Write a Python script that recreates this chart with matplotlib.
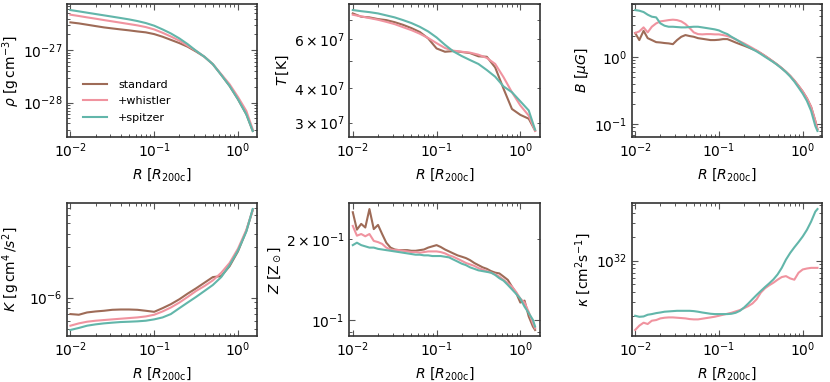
import numpy as np
import matplotlib
matplotlib.use("Agg")
import matplotlib.pyplot as plt

# radius grids (in R_200c)
R = [0.01, 0.0126, 0.0158, 0.02, 0.0251, 0.0316, 0.0398, 0.0501, 0.0631, 0.0794,
     0.1, 0.126, 0.158, 0.2, 0.251, 0.316, 0.398, 0.501, 0.631, 0.794,
     1.0, 1.259, 1.5]
R_fine = [0.01, 0.0112, 0.0126, 0.0141, 0.0158, 0.0178, 0.02, 0.0224, 0.0251, 0.0282,
          0.0316, 0.0355, 0.0398, 0.0447, 0.0501, 0.0562, 0.0631, 0.0708, 0.0794, 0.0891,
          0.1, 0.112, 0.126, 0.141, 0.158, 0.178, 0.2, 0.224, 0.251, 0.282,
          0.316, 0.355, 0.398, 0.447, 0.501, 0.562, 0.631, 0.708, 0.794, 0.891,
          1.0, 1.122, 1.259, 1.413, 1.5]

labels = ["standard", "+whistler", "+spitzer"]
colors = ["#9e6b57", "#f0939f", "#62b6aa"]

# density [1e-27 g/cm^3]
rho_standard = [3.38, 3.23, 3.05, 2.87, 2.71, 2.59, 2.48, 2.38, 2.27, 2.18,
                2.02, 1.80, 1.57, 1.36, 1.16, 0.94, 0.746, 0.540, 0.338, 0.208,
                0.116, 0.0598, 0.0288]
rho_whistler = [4.73, 4.47, 4.21, 3.97, 3.74, 3.53, 3.33, 3.14, 2.96, 2.75,
                2.48, 2.14, 1.82, 1.51, 1.21, 0.971, 0.746, 0.540, 0.348, 0.224,
                0.128, 0.0693, 0.0309]
rho_spitzer = [5.80, 5.48, 5.17, 4.87, 4.60, 4.34, 4.09, 3.85, 3.58, 3.28,
               2.92, 2.48, 2.08, 1.67, 1.30, 0.971, 0.746, 0.540, 0.338, 0.208,
               0.116, 0.0598, 0.0288]

# temperature [1e7 K]
T_standard = [7.42, 7.22, 7.18, 7.08, 7.02, 6.90, 6.75, 6.57, 6.36, 6.03,
              5.55, 5.40, 5.43, 5.39, 5.34, 5.20, 5.18, 4.74, 3.97, 3.36,
              3.20, 3.10, 2.81]
T_whistler = [7.34, 7.24, 7.14, 7.04, 6.92, 6.79, 6.62, 6.46, 6.27, 6.05,
              5.80, 5.57, 5.45, 5.40, 5.36, 5.27, 5.13, 4.88, 4.37, 3.86,
              3.46, 3.18, 2.80]
T_spitzer = [7.63, 7.56, 7.50, 7.42, 7.30, 7.18, 7.02, 6.85, 6.64, 6.39,
             6.08, 5.72, 5.42, 5.21, 5.04, 4.88, 4.64, 4.39, 4.05, 3.86,
             3.58, 3.32, 2.83]

# magnetic field [muG] (fine grid)
B_standard = [2.25, 1.77, 2.43, 1.89, 1.77, 1.65, 1.63, 1.60, 1.58, 1.54,
              1.77, 1.98, 2.10, 2.03, 1.98, 1.89, 1.85, 1.81, 1.77, 1.77,
              1.79, 1.83, 1.83, 1.73, 1.63, 1.54, 1.46, 1.38, 1.30, 1.23,
              1.13, 1.03, 0.934, 0.843, 0.761, 0.679, 0.599, 0.522, 0.445, 0.371,
              0.306, 0.243, 0.181, 0.112, 0.0843]
B_whistler = [2.25, 2.38, 2.73, 2.30, 2.79, 3.13, 3.35, 3.42, 3.50, 3.55,
              3.50, 3.35, 3.06, 2.67, 2.30, 2.17, 2.15, 2.17, 2.17, 2.15,
              2.15, 2.10, 2.03, 1.94, 1.81, 1.69, 1.58, 1.46, 1.35, 1.24,
              1.13, 1.03, 0.934, 0.843, 0.761, 0.679, 0.599, 0.522, 0.445, 0.371,
              0.306, 0.243, 0.181, 0.112, 0.0843]
B_spitzer = [4.93, 4.82, 4.61, 4.21, 3.93, 3.84, 3.13, 2.89, 2.79, 2.79,
             2.76, 2.73, 2.73, 2.76, 2.79, 2.79, 2.73, 2.67, 2.61, 2.55,
             2.46, 2.30, 2.17, 1.98, 1.83, 1.67, 1.52, 1.41, 1.30, 1.20,
             1.10, 1.00, 0.913, 0.833, 0.752, 0.671, 0.592, 0.511, 0.430, 0.351,
             0.285, 0.222, 0.158, 0.0945, 0.0796]

# entropy [1e-6 g cm^4 / s^2]
K_standard = [0.699, 0.689, 0.724, 0.740, 0.751, 0.767, 0.772, 0.772, 0.767, 0.751,
              0.734, 0.795, 0.866, 0.965, 1.090, 1.222, 1.381, 1.560, 1.594, 1.976,
              2.73, 4.26, 6.69]
K_whistler = [0.543, 0.571, 0.592, 0.605, 0.614, 0.623, 0.632, 0.641, 0.650, 0.664,
              0.689, 0.740, 0.806, 0.898, 1.014, 1.154, 1.285, 1.452, 1.713, 2.12,
              2.89, 4.35, 6.69]
K_spitzer = [0.495, 0.517, 0.543, 0.559, 0.571, 0.580, 0.588, 0.592, 0.597, 0.605,
             0.623, 0.650, 0.699, 0.795, 0.898, 1.014, 1.154, 1.314, 1.560, 2.02,
             2.77, 4.20, 6.84]

# metallicity [Z_sun] (fine grid)
Z_standard = [0.252, 0.217, 0.228, 0.221, 0.259, 0.218, 0.226, 0.209, 0.194, 0.186,
              0.183, 0.182, 0.182, 0.182, 0.181, 0.181, 0.182, 0.183, 0.186, 0.188,
              0.190, 0.187, 0.183, 0.180, 0.177, 0.174, 0.172, 0.170, 0.167, 0.163,
              0.160, 0.157, 0.155, 0.152, 0.150, 0.149, 0.145, 0.141, 0.133, 0.126,
              0.116, 0.118, 0.103, 0.0944, 0.0917]
Z_whistler = [0.224, 0.206, 0.209, 0.205, 0.209, 0.197, 0.195, 0.192, 0.186, 0.183,
              0.182, 0.182, 0.181, 0.180, 0.179, 0.179, 0.178, 0.179, 0.180, 0.180,
              0.180, 0.179, 0.177, 0.174, 0.172, 0.169, 0.166, 0.163, 0.161, 0.159,
              0.156, 0.154, 0.152, 0.150, 0.148, 0.145, 0.141, 0.137, 0.133, 0.127,
              0.120, 0.116, 0.107, 0.0971, 0.0930]
Z_spitzer = [0.190, 0.194, 0.190, 0.188, 0.186, 0.186, 0.184, 0.183, 0.182, 0.181,
             0.180, 0.179, 0.178, 0.177, 0.176, 0.175, 0.175, 0.174, 0.174, 0.173,
             0.173, 0.173, 0.172, 0.171, 0.168, 0.165, 0.162, 0.160, 0.157, 0.155,
             0.153, 0.152, 0.151, 0.150, 0.147, 0.143, 0.140, 0.135, 0.130, 0.125,
             0.120, 0.112, 0.106, 0.100, 0.0944]

# conductivity [1e32 cm^2/s] (fine grid, no standard run)
kap_whistler = [0.1322, 0.1499, 0.1634, 0.1572, 0.1731, 0.1765, 0.1852, 0.1888, 0.1906, 0.1906,
                0.1888, 0.1870, 0.1852, 0.1816, 0.1799, 0.1799, 0.1834, 0.1870, 0.1906, 0.1945,
                0.200, 0.206, 0.212, 0.218, 0.227, 0.236, 0.250, 0.265, 0.286, 0.324,
                0.393, 0.446, 0.486, 0.524, 0.572, 0.618, 0.635, 0.594, 0.572, 0.700,
                0.771, 0.793, 0.808, 0.808, 0.808]
kap_spitzer = [0.200, 0.194, 0.196, 0.206, 0.210, 0.216, 0.220, 0.225, 0.227, 0.229,
               0.231, 0.231, 0.231, 0.231, 0.229, 0.225, 0.220, 0.216, 0.212, 0.210,
               0.210, 0.210, 0.210, 0.212, 0.218, 0.231, 0.255, 0.286, 0.324, 0.367,
               0.412, 0.462, 0.514, 0.577, 0.667, 0.808, 1.028, 1.247, 1.469, 1.713,
               2.018, 2.446, 3.111, 4.155, 4.487]

plt.rcParams["font.size"] = 10
plt.rcParams["mathtext.default"] = "it"

fig, axes = plt.subplots(2, 3, figsize=(8.3, 3.82), dpi=100)
fig.subplots_adjust(left=0.0807, right=0.9904, bottom=0.1204, top=0.9895,
                    wspace=0.484, hspace=0.496)

panels = [
    (axes[0, 0], R, [rho_standard, rho_whistler, rho_spitzer], 1e-27, r"$\rho\ [\mathrm{g\,cm^{-3}}]$"),
    (axes[0, 1], R, [T_standard, T_whistler, T_spitzer], 1e7, r"$T\,[\mathrm{K}]$"),
    (axes[0, 2], R_fine, [B_standard, B_whistler, B_spitzer], 1.0, r"$B\ [\mu G]$"),
    (axes[1, 0], R, [K_standard, K_whistler, K_spitzer], 1e-6, r"$K\ [\mathrm{g\,cm^4}\,/s^2]$"),
    (axes[1, 1], R_fine, [Z_standard, Z_whistler, Z_spitzer], 1.0, r"$Z\ [\mathrm{Z_\odot}]$"),
    (axes[1, 2], R_fine, [None, kap_whistler, kap_spitzer], 1e32, r"$\kappa\ [\mathrm{cm^2 s^{-1}}]$"),
]

for ax, r, series, scale, ylabel in panels:
    for vals, lab, col in zip(series, labels, colors):
        if vals is None:
            continue
        ax.plot(r, np.array(vals) * scale, color=col, lw=1.5, label=lab)
    ax.set_xscale("log")
    ax.set_yscale("log")
    ax.set_xlim(0.0091, 1.7)
    ax.set_xlabel(r"$R\ [R_{\rm 200c}]$", fontsize=10)
    ax.set_ylabel(ylabel, fontsize=10, labelpad=2)
    ax.tick_params(which="both", direction="in", top=True, right=True,
                   color="#555555", labelsize=10)
    ax.tick_params(which="major", length=4, width=0.8)
    ax.tick_params(which="minor", length=2.2, width=0.7)
    for sp in ax.spines.values():
        sp.set_color("#333333")
        sp.set_linewidth(1.2)

# first column labels sit a bit closer to the axes
for ax in axes[:, 0]:
    ax.yaxis.set_label_coords(-0.235, 0.5)

axes[0, 0].legend(loc="lower left", bbox_to_anchor=(0.03, 0.03), frameon=False,
                  fontsize=8, handlelength=2.2, handletextpad=1.0, labelspacing=0.6)

fig.savefig("out.png", dpi=100)
